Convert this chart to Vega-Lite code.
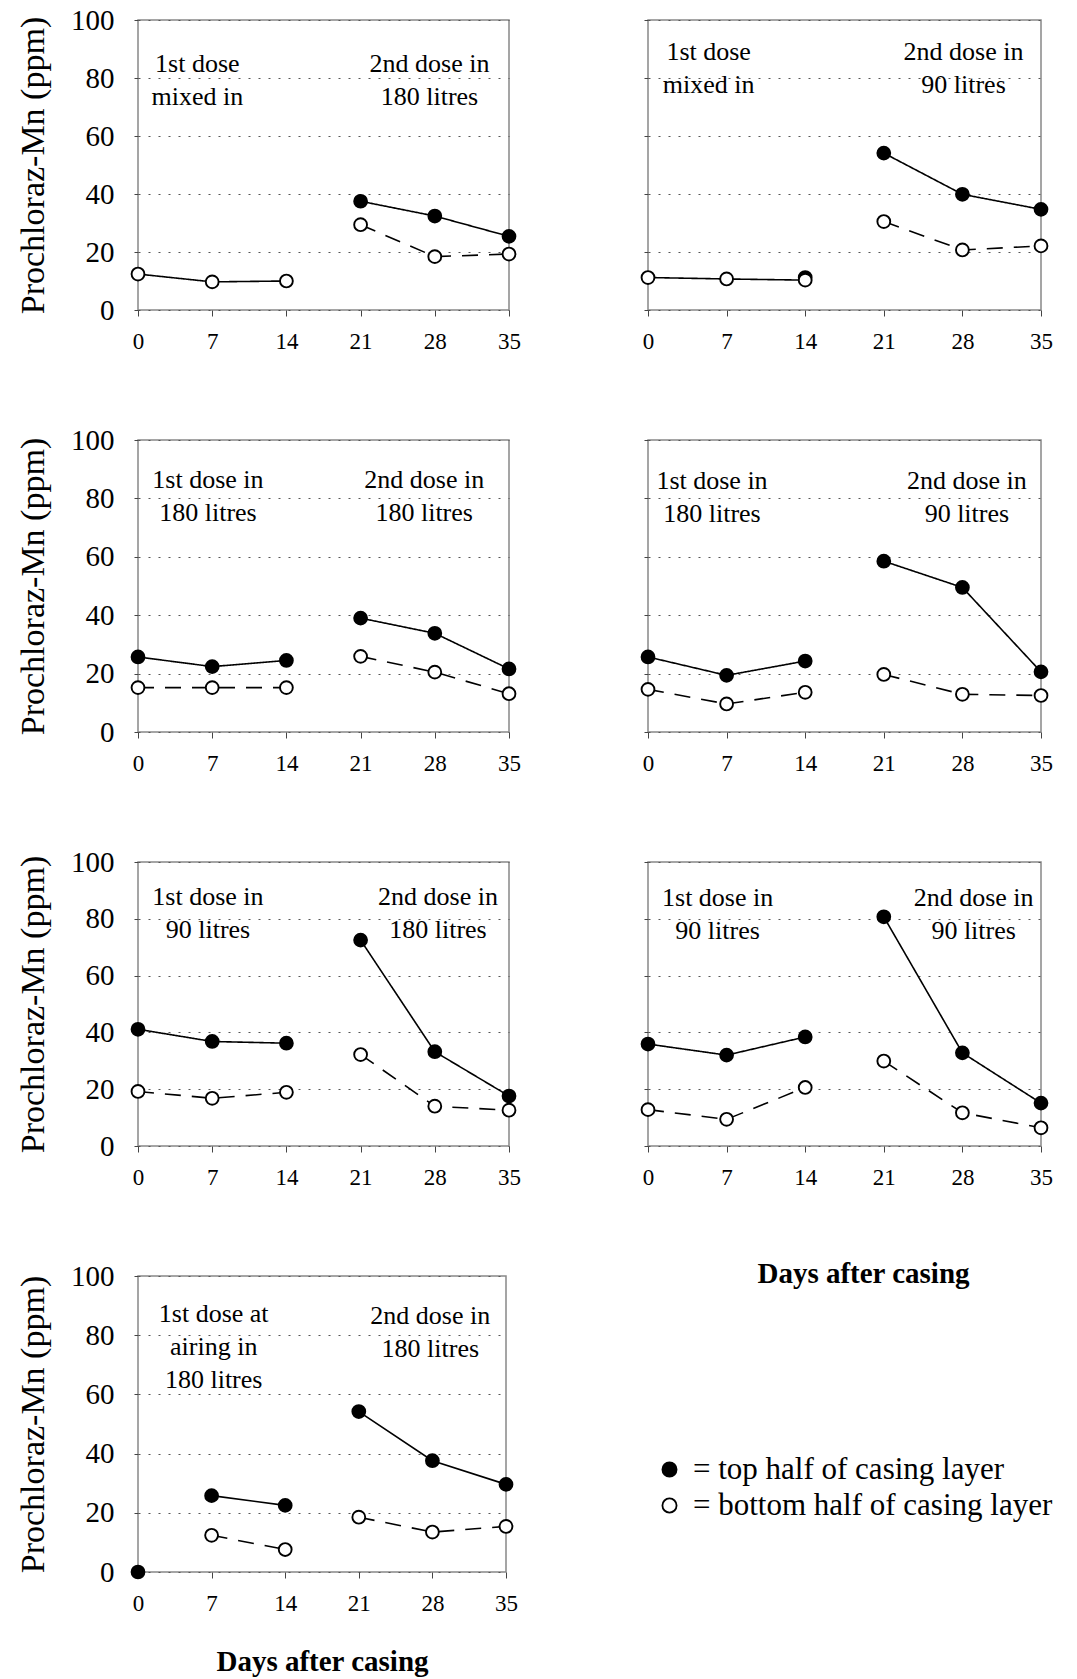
{
  "$schema": "https://vega.github.io/schema/vega-lite/v6.json",
  "background": "white",
  "padding": {"left": 15, "top": 5, "right": 5, "bottom": 0},
  "datasets": {
    "obs": [
      {"panel":1,"series":"whole","phase":"1","day":0,"ppm":12.4},
      {"panel":1,"series":"whole","phase":"1","day":7,"ppm":9.7},
      {"panel":1,"series":"whole","phase":"1","day":14,"ppm":10.0},
      {"panel":1,"series":"top","phase":"2","day":21,"ppm":37.5},
      {"panel":1,"series":"top","phase":"2","day":28,"ppm":32.4},
      {"panel":1,"series":"top","phase":"2","day":35,"ppm":25.4},
      {"panel":1,"series":"bottom","phase":"2","day":21,"ppm":29.4},
      {"panel":1,"series":"bottom","phase":"2","day":28,"ppm":18.4},
      {"panel":1,"series":"bottom","phase":"2","day":35,"ppm":19.3},

      {"panel":2,"series":"top","phase":"1","day":14,"ppm":11.2},
      {"panel":2,"series":"whole","phase":"1","day":0,"ppm":11.2},
      {"panel":2,"series":"whole","phase":"1","day":7,"ppm":10.7},
      {"panel":2,"series":"whole","phase":"1","day":14,"ppm":10.3},
      {"panel":2,"series":"top","phase":"2","day":21,"ppm":54.1},
      {"panel":2,"series":"top","phase":"2","day":28,"ppm":39.9},
      {"panel":2,"series":"top","phase":"2","day":35,"ppm":34.7},
      {"panel":2,"series":"bottom","phase":"2","day":21,"ppm":30.5},
      {"panel":2,"series":"bottom","phase":"2","day":28,"ppm":20.7},
      {"panel":2,"series":"bottom","phase":"2","day":35,"ppm":22.1},

      {"panel":3,"series":"top","phase":"1","day":0,"ppm":25.7},
      {"panel":3,"series":"top","phase":"1","day":7,"ppm":22.4},
      {"panel":3,"series":"top","phase":"1","day":14,"ppm":24.5},
      {"panel":3,"series":"top","phase":"2","day":21,"ppm":39.0},
      {"panel":3,"series":"top","phase":"2","day":28,"ppm":33.8},
      {"panel":3,"series":"top","phase":"2","day":35,"ppm":21.6},
      {"panel":3,"series":"bottom","phase":"1","day":0,"ppm":15.2},
      {"panel":3,"series":"bottom","phase":"1","day":7,"ppm":15.2},
      {"panel":3,"series":"bottom","phase":"1","day":14,"ppm":15.2},
      {"panel":3,"series":"bottom","phase":"2","day":21,"ppm":25.9},
      {"panel":3,"series":"bottom","phase":"2","day":28,"ppm":20.5},
      {"panel":3,"series":"bottom","phase":"2","day":35,"ppm":13.1},

      {"panel":4,"series":"top","phase":"1","day":0,"ppm":25.7},
      {"panel":4,"series":"top","phase":"1","day":7,"ppm":19.4},
      {"panel":4,"series":"top","phase":"1","day":14,"ppm":24.3},
      {"panel":4,"series":"top","phase":"2","day":21,"ppm":58.5},
      {"panel":4,"series":"top","phase":"2","day":28,"ppm":49.5},
      {"panel":4,"series":"top","phase":"2","day":35,"ppm":20.6},
      {"panel":4,"series":"bottom","phase":"1","day":0,"ppm":14.6},
      {"panel":4,"series":"bottom","phase":"1","day":7,"ppm":9.6},
      {"panel":4,"series":"bottom","phase":"1","day":14,"ppm":13.6},
      {"panel":4,"series":"bottom","phase":"2","day":21,"ppm":19.7},
      {"panel":4,"series":"bottom","phase":"2","day":28,"ppm":12.9},
      {"panel":4,"series":"bottom","phase":"2","day":35,"ppm":12.5},

      {"panel":5,"series":"top","phase":"1","day":0,"ppm":41.1},
      {"panel":5,"series":"top","phase":"1","day":7,"ppm":36.8},
      {"panel":5,"series":"top","phase":"1","day":14,"ppm":36.2},
      {"panel":5,"series":"top","phase":"2","day":21,"ppm":72.5},
      {"panel":5,"series":"top","phase":"2","day":28,"ppm":33.2},
      {"panel":5,"series":"top","phase":"2","day":35,"ppm":17.6},
      {"panel":5,"series":"bottom","phase":"1","day":0,"ppm":19.2},
      {"panel":5,"series":"bottom","phase":"1","day":7,"ppm":16.8},
      {"panel":5,"series":"bottom","phase":"1","day":14,"ppm":18.9},
      {"panel":5,"series":"bottom","phase":"2","day":21,"ppm":32.2},
      {"panel":5,"series":"bottom","phase":"2","day":28,"ppm":14.0},
      {"panel":5,"series":"bottom","phase":"2","day":35,"ppm":12.6},

      {"panel":6,"series":"top","phase":"1","day":0,"ppm":35.9},
      {"panel":6,"series":"top","phase":"1","day":7,"ppm":32.0},
      {"panel":6,"series":"top","phase":"1","day":14,"ppm":38.4},
      {"panel":6,"series":"top","phase":"2","day":21,"ppm":80.7},
      {"panel":6,"series":"top","phase":"2","day":28,"ppm":32.8},
      {"panel":6,"series":"top","phase":"2","day":35,"ppm":15.1},
      {"panel":6,"series":"bottom","phase":"1","day":0,"ppm":12.8},
      {"panel":6,"series":"bottom","phase":"1","day":7,"ppm":9.4},
      {"panel":6,"series":"bottom","phase":"1","day":14,"ppm":20.6},
      {"panel":6,"series":"bottom","phase":"2","day":21,"ppm":29.9},
      {"panel":6,"series":"bottom","phase":"2","day":28,"ppm":11.7},
      {"panel":6,"series":"bottom","phase":"2","day":35,"ppm":6.4},

      {"panel":7,"series":"top","phase":"0","day":0,"ppm":0},
      {"panel":7,"series":"top","phase":"1","day":7,"ppm":25.8},
      {"panel":7,"series":"top","phase":"1","day":14,"ppm":22.5},
      {"panel":7,"series":"top","phase":"2","day":21,"ppm":54.2},
      {"panel":7,"series":"top","phase":"2","day":28,"ppm":37.6},
      {"panel":7,"series":"top","phase":"2","day":35,"ppm":29.6},
      {"panel":7,"series":"bottom","phase":"1","day":7,"ppm":12.4},
      {"panel":7,"series":"bottom","phase":"1","day":14,"ppm":7.6},
      {"panel":7,"series":"bottom","phase":"2","day":21,"ppm":18.5},
      {"panel":7,"series":"bottom","phase":"2","day":28,"ppm":13.5},
      {"panel":7,"series":"bottom","phase":"2","day":35,"ppm":15.4}
    ],
    "notes": [
      {"panel":1,"day":5.6,"ppm":85,"label":"1st dose\nmixed in"},
      {"panel":1,"day":27.5,"ppm":85,"label":"2nd dose in\n180 litres"},
      {"panel":2,"day":5.4,"ppm":89,"label":"1st dose\nmixed in"},
      {"panel":2,"day":28.1,"ppm":89,"label":"2nd dose in\n90 litres"},
      {"panel":3,"day":6.6,"ppm":86.3,"label":"1st dose in\n180 litres"},
      {"panel":3,"day":27,"ppm":86.3,"label":"2nd dose in\n180 litres"},
      {"panel":4,"day":5.7,"ppm":85.8,"label":"1st dose in\n180 litres"},
      {"panel":4,"day":28.4,"ppm":85.8,"label":"2nd dose in\n90 litres"},
      {"panel":5,"day":6.6,"ppm":87.8,"label":"1st dose in\n90 litres"},
      {"panel":5,"day":28.3,"ppm":87.8,"label":"2nd dose in\n180 litres"},
      {"panel":6,"day":6.2,"ppm":87.2,"label":"1st dose in\n90 litres"},
      {"panel":6,"day":29,"ppm":87.2,"label":"2nd dose in\n90 litres"},
      {"panel":7,"day":7.2,"ppm":87.2,"label":"1st dose at\nairing in\n180 litres"},
      {"panel":7,"day":27.8,"ppm":86.5,"label":"2nd dose in\n180 litres"}
    ]
  },
  "columns": 2,
  "bounds": "flush",
  "spacing": {"row": 130, "column": 139},
  "resolve": {"scale": {"fill": "independent", "strokeDash": "independent"}, "legend": {"fill": "independent", "strokeDash": "independent"}},
  "concat": [
    {
      "width": 371, "height": 290,
      "encoding": {
        "x": {"field":"day","type":"quantitative","scale":{"domain":[0,35],"nice":false,"zero":false},"axis":{"values":[0,7,14,21,28,35],"title":null}},
        "y": {"field":"ppm","type":"quantitative","scale":{"domain":[0,100],"nice":false},"axis":{"values":[0,20,40,60,80,100],"title":"Prochloraz-Mn (ppm)"}}
      },
      "layer": [
        {"data":{"name":"obs"},"transform":[{"filter":"datum.panel == 1"}],"mark":{"type":"line","color":"black","strokeWidth":1.6},"encoding":{"detail":[{"field":"series","type":"nominal"},{"field":"phase","type":"nominal"}],"strokeDash":{"field":"series","type":"nominal","scale":{"domain":["top","bottom","whole"],"range":[[1,0],[16,11],[1,0]]},"legend":null}}},
        {"data":{"name":"obs"},"transform":[{"filter":"datum.panel == 1"}],"mark":{"type":"point","filled":true,"shape":"circle","size":165,"stroke":"black","strokeWidth":1.9,"opacity":1},"encoding":{"fill":{"field":"series","type":"nominal","scale":{"domain":["top","bottom","whole"],"range":["black","white","white"]},"legend":null}}},
        {"data":{"name":"notes"},"transform":[{"filter":"datum.panel == 1"}],"mark":{"type":"text","font":"Liberation Serif","fontSize":26,"lineBreak":"\n","lineHeight":33,"baseline":"middle","align":"center","color":"black"},"encoding":{"text":{"field":"label","type":"nominal"}}}
      ]
    },
    {
      "width": 393, "height": 290,
      "encoding": {
        "x": {"field":"day","type":"quantitative","scale":{"domain":[0,35],"nice":false,"zero":false},"axis":{"values":[0,7,14,21,28,35],"title":null}},
        "y": {"field":"ppm","type":"quantitative","scale":{"domain":[0,100],"nice":false},"axis":{"values":[0,20,40,60,80,100],"labels":false,"title":null}}
      },
      "layer": [
        {"data":{"name":"obs"},"transform":[{"filter":"datum.panel == 2"}],"mark":{"type":"line","color":"black","strokeWidth":1.6},"encoding":{"detail":[{"field":"series","type":"nominal"},{"field":"phase","type":"nominal"}],"strokeDash":{"field":"series","type":"nominal","scale":{"domain":["top","bottom","whole"],"range":[[1,0],[16,11],[1,0]]},"legend":null}}},
        {"data":{"name":"obs"},"transform":[{"filter":"datum.panel == 2"}],"mark":{"type":"point","filled":true,"shape":"circle","size":165,"stroke":"black","strokeWidth":1.9,"opacity":1},"encoding":{"fill":{"field":"series","type":"nominal","scale":{"domain":["top","bottom","whole"],"range":["black","white","white"]},"legend":null}}},
        {"data":{"name":"notes"},"transform":[{"filter":"datum.panel == 2"}],"mark":{"type":"text","font":"Liberation Serif","fontSize":26,"lineBreak":"\n","lineHeight":33,"baseline":"middle","align":"center","color":"black"},"encoding":{"text":{"field":"label","type":"nominal"}}}
      ]
    },
    {
      "width": 371, "height": 292,
      "encoding": {
        "x": {"field":"day","type":"quantitative","scale":{"domain":[0,35],"nice":false,"zero":false},"axis":{"values":[0,7,14,21,28,35],"title":null}},
        "y": {"field":"ppm","type":"quantitative","scale":{"domain":[0,100],"nice":false},"axis":{"values":[0,20,40,60,80,100],"title":"Prochloraz-Mn (ppm)"}}
      },
      "layer": [
        {"data":{"name":"obs"},"transform":[{"filter":"datum.panel == 3"}],"mark":{"type":"line","color":"black","strokeWidth":1.6},"encoding":{"detail":[{"field":"series","type":"nominal"},{"field":"phase","type":"nominal"}],"strokeDash":{"field":"series","type":"nominal","scale":{"domain":["top","bottom","whole"],"range":[[1,0],[16,11],[1,0]]},"legend":null}}},
        {"data":{"name":"obs"},"transform":[{"filter":"datum.panel == 3"}],"mark":{"type":"point","filled":true,"shape":"circle","size":165,"stroke":"black","strokeWidth":1.9,"opacity":1},"encoding":{"fill":{"field":"series","type":"nominal","scale":{"domain":["top","bottom","whole"],"range":["black","white","white"]},"legend":null}}},
        {"data":{"name":"notes"},"transform":[{"filter":"datum.panel == 3"}],"mark":{"type":"text","font":"Liberation Serif","fontSize":26,"lineBreak":"\n","lineHeight":33,"baseline":"middle","align":"center","color":"black"},"encoding":{"text":{"field":"label","type":"nominal"}}}
      ]
    },
    {
      "width": 393, "height": 292,
      "encoding": {
        "x": {"field":"day","type":"quantitative","scale":{"domain":[0,35],"nice":false,"zero":false},"axis":{"values":[0,7,14,21,28,35],"title":null}},
        "y": {"field":"ppm","type":"quantitative","scale":{"domain":[0,100],"nice":false},"axis":{"values":[0,20,40,60,80,100],"labels":false,"title":null}}
      },
      "layer": [
        {"data":{"name":"obs"},"transform":[{"filter":"datum.panel == 4"}],"mark":{"type":"line","color":"black","strokeWidth":1.6},"encoding":{"detail":[{"field":"series","type":"nominal"},{"field":"phase","type":"nominal"}],"strokeDash":{"field":"series","type":"nominal","scale":{"domain":["top","bottom","whole"],"range":[[1,0],[16,11],[1,0]]},"legend":null}}},
        {"data":{"name":"obs"},"transform":[{"filter":"datum.panel == 4"}],"mark":{"type":"point","filled":true,"shape":"circle","size":165,"stroke":"black","strokeWidth":1.9,"opacity":1},"encoding":{"fill":{"field":"series","type":"nominal","scale":{"domain":["top","bottom","whole"],"range":["black","white","white"]},"legend":null}}},
        {"data":{"name":"notes"},"transform":[{"filter":"datum.panel == 4"}],"mark":{"type":"text","font":"Liberation Serif","fontSize":26,"lineBreak":"\n","lineHeight":33,"baseline":"middle","align":"center","color":"black"},"encoding":{"text":{"field":"label","type":"nominal"}}}
      ]
    },
    {
      "width": 371, "height": 284,
      "encoding": {
        "x": {"field":"day","type":"quantitative","scale":{"domain":[0,35],"nice":false,"zero":false},"axis":{"values":[0,7,14,21,28,35],"title":null}},
        "y": {"field":"ppm","type":"quantitative","scale":{"domain":[0,100],"nice":false},"axis":{"values":[0,20,40,60,80,100],"title":"Prochloraz-Mn (ppm)"}}
      },
      "layer": [
        {"data":{"name":"obs"},"transform":[{"filter":"datum.panel == 5"}],"mark":{"type":"line","color":"black","strokeWidth":1.6},"encoding":{"detail":[{"field":"series","type":"nominal"},{"field":"phase","type":"nominal"}],"strokeDash":{"field":"series","type":"nominal","scale":{"domain":["top","bottom","whole"],"range":[[1,0],[16,11],[1,0]]},"legend":null}}},
        {"data":{"name":"obs"},"transform":[{"filter":"datum.panel == 5"}],"mark":{"type":"point","filled":true,"shape":"circle","size":165,"stroke":"black","strokeWidth":1.9,"opacity":1},"encoding":{"fill":{"field":"series","type":"nominal","scale":{"domain":["top","bottom","whole"],"range":["black","white","white"]},"legend":null}}},
        {"data":{"name":"notes"},"transform":[{"filter":"datum.panel == 5"}],"mark":{"type":"text","font":"Liberation Serif","fontSize":26,"lineBreak":"\n","lineHeight":33,"baseline":"middle","align":"center","color":"black"},"encoding":{"text":{"field":"label","type":"nominal"}}}
      ]
    },
    {
      "width": 393, "height": 284,
      "encoding": {
        "x": {"field":"day","type":"quantitative","scale":{"domain":[0,35],"nice":false,"zero":false},"axis":{"values":[0,7,14,21,28,35],"title":"Days after casing","titlePadding":70,"titleX":215}},
        "y": {"field":"ppm","type":"quantitative","scale":{"domain":[0,100],"nice":false},"axis":{"values":[0,20,40,60,80,100],"labels":false,"title":null}}
      },
      "layer": [
        {"data":{"name":"obs"},"transform":[{"filter":"datum.panel == 6"}],"mark":{"type":"line","color":"black","strokeWidth":1.6},"encoding":{"detail":[{"field":"series","type":"nominal"},{"field":"phase","type":"nominal"}],"strokeDash":{"field":"series","type":"nominal","scale":{"domain":["top","bottom","whole"],"range":[[1,0],[16,11],[1,0]]},"legend":null}}},
        {"data":{"name":"obs"},"transform":[{"filter":"datum.panel == 6"}],"mark":{"type":"point","filled":true,"shape":"circle","size":165,"stroke":"black","strokeWidth":1.9,"opacity":1},"encoding":{"fill":{"field":"series","type":"nominal","scale":{"domain":["top","bottom","whole"],"range":["black","white","white"]},"legend":null}}},
        {"data":{"name":"notes"},"transform":[{"filter":"datum.panel == 6"}],"mark":{"type":"text","font":"Liberation Serif","fontSize":26,"lineBreak":"\n","lineHeight":33,"baseline":"middle","align":"center","color":"black"},"encoding":{"text":{"field":"label","type":"nominal"}}}
      ]
    },
    {
      "width": 368, "height": 296,
      "encoding": {
        "x": {"field":"day","type":"quantitative","scale":{"domain":[0,35],"nice":false,"zero":false},"axis":{"values":[0,7,14,21,28,35],"title":"Days after casing","titlePadding":32}},
        "y": {"field":"ppm","type":"quantitative","scale":{"domain":[0,100],"nice":false},"axis":{"values":[0,20,40,60,80,100],"title":"Prochloraz-Mn (ppm)"}}
      },
      "layer": [
        {"data":{"name":"obs"},"transform":[{"filter":"datum.panel == 7 && datum.series == 'top'"}],"mark":{"type":"line","color":"black","strokeWidth":1.6},"encoding":{"detail":{"field":"phase","type":"nominal"}}},
        {"data":{"name":"obs"},"transform":[{"filter":"datum.panel == 7 && datum.series == 'bottom'"}],"mark":{"type":"line","color":"black","strokeWidth":1.6,"strokeDash":[16,11]},"encoding":{"detail":{"field":"phase","type":"nominal"}}},
        {"data":{"name":"obs"},"transform":[{"filter":"datum.panel == 7"}],"mark":{"type":"point","filled":true,"shape":"circle","size":165,"stroke":"black","strokeWidth":1.9,"opacity":1},"encoding":{"fill":{"field":"series","type":"nominal","scale":{"domain":["top","bottom"],"range":["black","white"]},"legend":{"orient":"none","legendX":516,"legendY":178,"title":null,"padding":0,"labelExpr":"datum.value == 'top' ? '=  top half of casing layer' : '=  bottom half of casing layer'","labelFont":"Liberation Serif","labelFontSize":31,"labelColor":"black","labelLimit":600,"labelOffset":8,"symbolType":"circle","symbolSize":200,"symbolStrokeColor":"black","symbolStrokeWidth":1.8,"rowPadding":4}}}},
        {"data":{"name":"notes"},"transform":[{"filter":"datum.panel == 7"}],"mark":{"type":"text","font":"Liberation Serif","fontSize":26,"lineBreak":"\n","lineHeight":33,"baseline":"middle","align":"center","color":"black"},"encoding":{"text":{"field":"label","type":"nominal"}}}
      ]
    }
  ],
  "config": {
    "font": "Liberation Serif",
    "view": {"stroke": "#888", "strokeWidth": 1.5},
    "axis": {"labelFont": "Liberation Serif", "titleFont": "Liberation Serif", "labelColor": "black", "titleColor": "black", "domain": false, "tickColor": "#444", "tickWidth": 1, "labelOverlap": false, "labelFlush": false, "labelBound": false},
    "axisX": {"grid": false, "labelFontSize": 23, "tickSize": 6, "labelPadding": 14, "titleFontSize": 29, "titleFontWeight": "bold"},
    "axisY": {"grid": true, "gridDash": [2, 8], "gridColor": "#555", "gridWidth": 1, "labelFontSize": 29, "tickSize": 4, "labelPadding": 20, "titleFontSize": 34, "titleFontWeight": "normal", "titlePadding": 20}
  }
}
